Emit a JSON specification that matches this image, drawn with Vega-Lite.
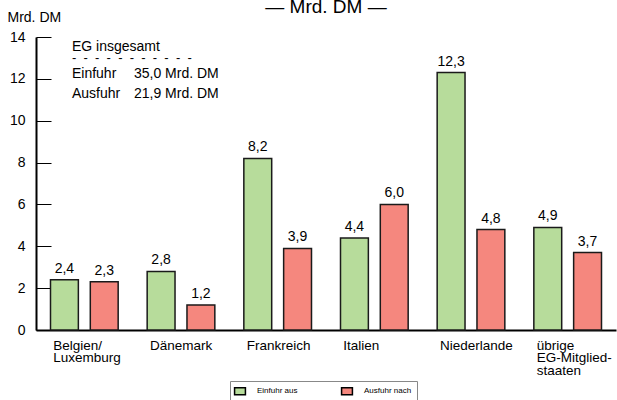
{
  "$schema": "https://vega.github.io/schema/vega-lite/v6.json",
  "autosize": "none",
  "width": 580,
  "height": 293,
  "padding": {"left": 36, "top": 37, "right": 1, "bottom": 70},
  "background": "white",
  "config": {
    "font": "Liberation Sans",
    "view": {"stroke": null},
    "locale": {"number": {"decimal": ",", "thousands": ".", "grouping": [3], "currency": ["", " DM"]}}
  },
  "title": {"text": "— Mrd. DM —", "fontSize": 19, "fontWeight": "normal", "anchor": "middle", "offset": -7, "color": "black"},
  "datasets": {
    "handel": [
      {"land": "Belgien/|Luxemburg", "art": "Einfuhr aus", "wert": 2.4},
      {"land": "Belgien/|Luxemburg", "art": "Ausfuhr nach", "wert": 2.3},
      {"land": "Dänemark", "art": "Einfuhr aus", "wert": 2.8},
      {"land": "Dänemark", "art": "Ausfuhr nach", "wert": 1.2},
      {"land": "Frankreich", "art": "Einfuhr aus", "wert": 8.2},
      {"land": "Frankreich", "art": "Ausfuhr nach", "wert": 3.9},
      {"land": "Italien", "art": "Einfuhr aus", "wert": 4.4},
      {"land": "Italien", "art": "Ausfuhr nach", "wert": 6.0},
      {"land": "Niederlande", "art": "Einfuhr aus", "wert": 12.3},
      {"land": "Niederlande", "art": "Ausfuhr nach", "wert": 4.8},
      {"land": "übrige|EG-Mitglied-|staaten", "art": "Einfuhr aus", "wert": 4.9},
      {"land": "übrige|EG-Mitglied-|staaten", "art": "Ausfuhr nach", "wert": 3.7}
    ],
    "gesamt": [
      {"kopf": "EG insgesamt", "strich": "-\u00a0\u00a0-\u00a0\u00a0-\u00a0\u00a0-\u00a0\u00a0-\u00a0\u00a0-\u00a0\u00a0-\u00a0\u00a0-\u00a0\u00a0-\u00a0\u00a0-\u00a0\u00a0-", "einfuhr": "35,0 Mrd. DM", "ausfuhr": "21,9 Mrd. DM"}
    ]
  },
  "layer": [
    {
      "data": {"name": "handel"},
      "mark": {"type": "bar", "stroke": "#1a1a1a", "strokeWidth": 1.5},
      "encoding": {
        "x": {
          "field": "land", "type": "nominal", "sort": null,
          "scale": {"paddingInner": 0.3, "paddingOuter": 0.15},
          "axis": {
            "title": null, "labelAngle": 0, "labelAlign": "left", "labelOffset": -31,
            "labelExpr": "split(datum.label, '|')", "labelFontSize": 13.5, "labelColor": "black",
            "labelLineHeight": 12.5, "labelPadding": 8, "ticks": false,
            "domainColor": "black", "domainWidth": 2
          }
        },
        "xOffset": {"field": "art", "type": "nominal", "sort": ["Einfuhr aus", "Ausfuhr nach"], "scale": {"paddingInner": 0.3}},
        "y": {
          "field": "wert", "type": "quantitative",
          "scale": {"domain": [0, 14], "nice": false},
          "axis": {
            "values": [0, 2, 4, 6, 8, 10, 12, 14], "grid": false,
            "tickSize": -15, "tickColor": "black", "tickWidth": 1,
            "domainColor": "black", "domainWidth": 2,
            "labelFontSize": 14, "labelColor": "black", "labelPadding": 26,
            "title": "Mrd. DM", "titleAngle": 0, "titleAlign": "left", "titleBaseline": "alphabetic",
            "titleX": -29, "titleY": -16, "titleFontSize": 14, "titleFontWeight": "normal", "titleColor": "black"
          }
        },
        "color": {
          "field": "art", "type": "nominal",
          "scale": {"domain": ["Einfuhr aus", "Ausfuhr nach"], "range": ["#b7dc9b", "#f5877e"]},
          "legend": {
            "title": null, "orient": "none", "direction": "horizontal", "legendX": 194, "legendY": 344,
            "symbolType": "M-1.4,-0.9L1.4,-0.9L1.4,0.9L-1.4,0.9Z", "symbolSize": 60, "symbolStrokeColor": "black", "symbolStrokeWidth": 1.5,
            "labelFontSize": 8, "labelColor": "black", "columnPadding": 40, "labelOffset": 12,
            "strokeColor": "#888", "padding": 5
          }
        }
      }
    },
    {
      "data": {"name": "handel"},
      "mark": {"type": "text", "baseline": "bottom", "dy": -4, "fontSize": 14, "color": "black"},
      "encoding": {
        "x": {"field": "land", "type": "nominal", "sort": null},
        "xOffset": {"field": "art", "type": "nominal", "sort": ["Einfuhr aus", "Ausfuhr nach"]},
        "y": {"field": "wert", "type": "quantitative"},
        "text": {"field": "wert", "type": "quantitative", "format": ".1f"}
      }
    },
    {
      "data": {"name": "gesamt"},
      "mark": {"type": "text", "align": "left", "baseline": "alphabetic", "fontSize": 14, "color": "black", "dx": 7.5},
      "encoding": {
        "x": {"datum": "Belgien/|Luxemburg"},
        "xOffset": {"datum": "Einfuhr aus"},
        "y": {"datum": 13.33},
        "text": {"field": "kopf"}
      }
    },
    {
      "data": {"name": "gesamt"},
      "mark": {"type": "text", "align": "left", "baseline": "alphabetic", "fontSize": 13, "color": "black", "dx": 7.5},
      "encoding": {
        "x": {"datum": "Belgien/|Luxemburg"},
        "xOffset": {"datum": "Einfuhr aus"},
        "y": {"datum": 12.8},
        "text": {"field": "strich"}
      }
    },
    {
      "data": {"name": "gesamt"},
      "mark": {"type": "text", "align": "left", "baseline": "alphabetic", "fontSize": 14, "color": "black", "dx": 7.5, "lineHeight": 20},
      "encoding": {
        "x": {"datum": "Belgien/|Luxemburg"},
        "xOffset": {"datum": "Einfuhr aus"},
        "y": {"datum": 12.04},
        "text": {"value": ["Einfuhr", "Ausfuhr"]}
      }
    },
    {
      "data": {"name": "gesamt"},
      "mark": {"type": "text", "align": "left", "baseline": "alphabetic", "fontSize": 14, "color": "black", "dx": 69.5},
      "encoding": {
        "x": {"datum": "Belgien/|Luxemburg"},
        "xOffset": {"datum": "Einfuhr aus"},
        "y": {"datum": 12.04},
        "text": {"field": "einfuhr"}
      }
    },
    {
      "data": {"name": "gesamt"},
      "mark": {"type": "text", "align": "left", "baseline": "alphabetic", "fontSize": 14, "color": "black", "dx": 69.5},
      "encoding": {
        "x": {"datum": "Belgien/|Luxemburg"},
        "xOffset": {"datum": "Einfuhr aus"},
        "y": {"datum": 11.08},
        "text": {"field": "ausfuhr"}
      }
    }
  ]
}
